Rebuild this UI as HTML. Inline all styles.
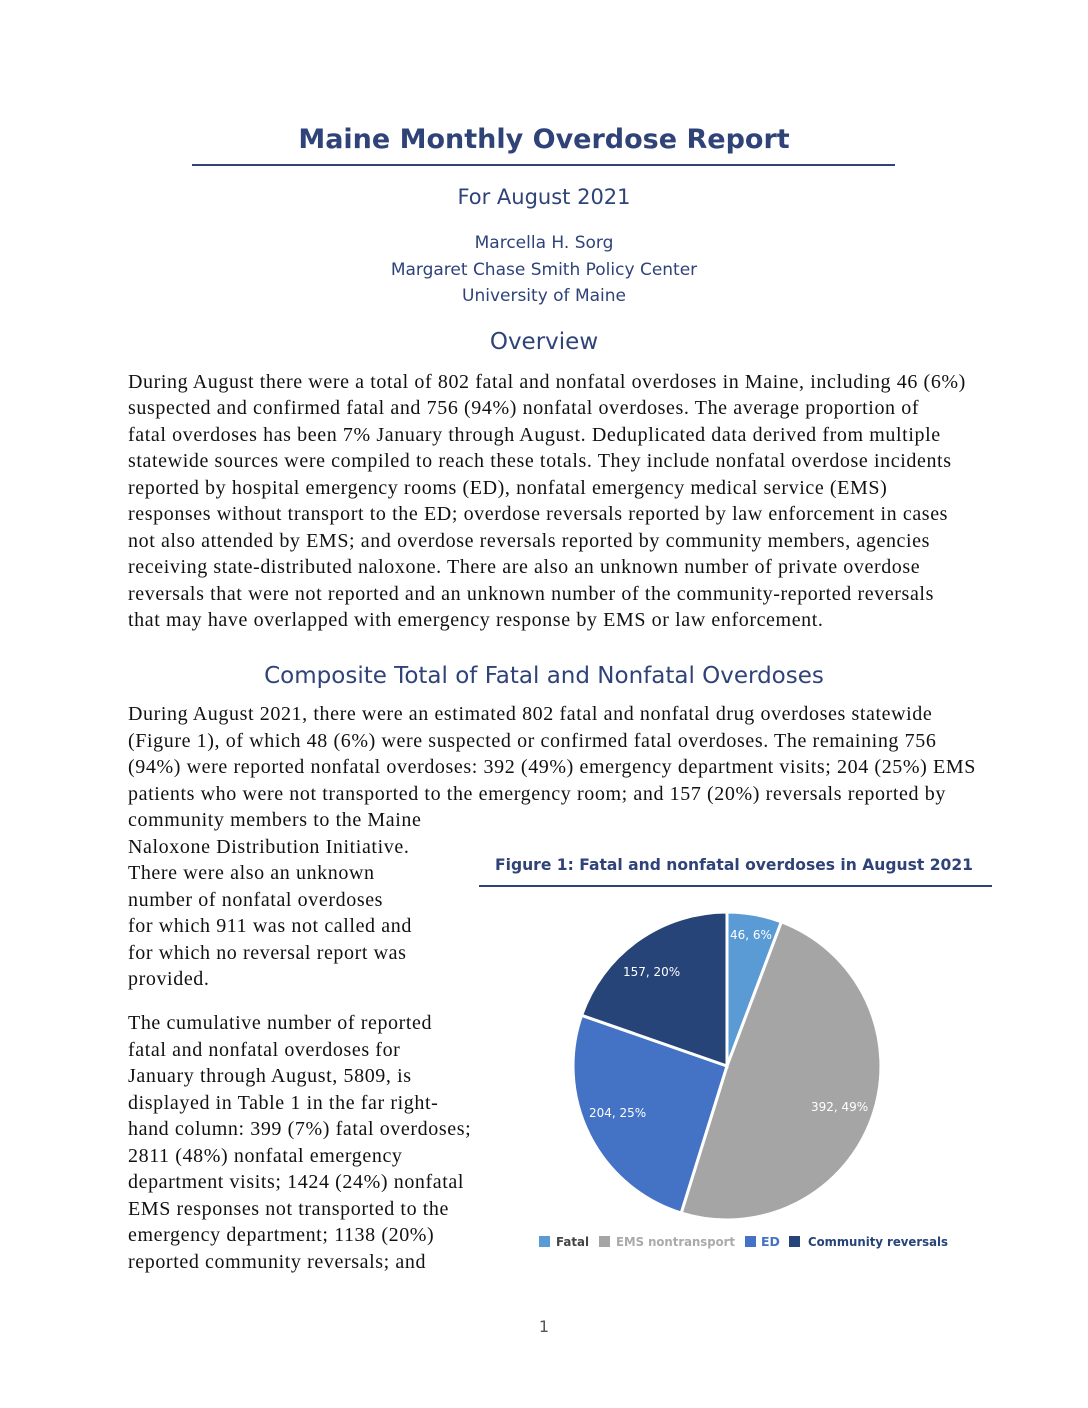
<!DOCTYPE html>
<html><head><meta charset="utf-8"><style>
body{margin:0;background:#fff;}
.pg{position:relative;width:1088px;height:1408px;overflow:hidden;background:#fff;}
.c{position:absolute;left:0;width:1088px;text-align:center;font-family:"DejaVu Sans","Liberation Sans",sans-serif;color:#2f4379;white-space:nowrap;}
.l{position:absolute;left:128px;font-family:"Liberation Serif",serif;font-size:20px;letter-spacing:0.6px;color:#111;white-space:nowrap;line-height:20px;margin-top:1px;}
</style></head><body><div class="pg">
<div class="c" style="top:124px;font-size:27px;font-weight:bold;">Maine Monthly Overdose Report</div>
<div style="position:absolute;left:192px;top:164px;width:703px;height:2px;background:#2f4379"></div>
<div class="c" style="top:185px;font-size:21px;">For August 2021</div>
<div class="c" style="top:230px;font-size:17px;line-height:26.5px;">Marcella H. Sorg<br>Margaret Chase Smith Policy Center<br>University of Maine</div>
<div class="c" style="top:329px;font-size:23px;">Overview</div>
<div class="l" style="top:371px">During August there were a total of 802 fatal and nonfatal overdoses in Maine, including 46 (6%)</div>
<div class="l" style="top:397px">suspected and confirmed fatal and 756 (94%) nonfatal overdoses. The average proportion of</div>
<div class="l" style="top:424px">fatal overdoses has been 7% January through August. Deduplicated data derived from multiple</div>
<div class="l" style="top:450px">statewide sources were compiled to reach these totals. They include nonfatal overdose incidents</div>
<div class="l" style="top:477px">reported by hospital emergency rooms (ED), nonfatal emergency medical service (EMS)</div>
<div class="l" style="top:503px">responses without transport to the ED; overdose reversals reported by law enforcement in cases</div>
<div class="l" style="top:530px">not also attended by EMS; and overdose reversals reported by community members, agencies</div>
<div class="l" style="top:556px">receiving state-distributed naloxone. There are also an unknown number of private overdose</div>
<div class="l" style="top:583px">reversals that were not reported and an unknown number of the community-reported reversals</div>
<div class="l" style="top:609px">that may have overlapped with emergency response by EMS or law enforcement.</div>
<div class="c" style="top:663px;font-size:23px;">Composite Total of Fatal and Nonfatal Overdoses</div>
<div class="l" style="top:703px">During August 2021, there were an estimated 802 fatal and nonfatal drug overdoses statewide</div>
<div class="l" style="top:730px">(Figure 1), of which 48 (6%) were suspected or confirmed fatal overdoses. The remaining 756</div>
<div class="l" style="top:756px">(94%) were reported nonfatal overdoses: 392 (49%) emergency department visits; 204 (25%) EMS</div>
<div class="l" style="top:783px">patients who were not transported to the emergency room; and 157 (20%) reversals reported by</div>
<div class="l" style="top:809px">community members to the Maine</div>
<div class="l" style="top:836px">Naloxone Distribution Initiative.</div>
<div class="l" style="top:862px">There were also an unknown</div>
<div class="l" style="top:889px">number of nonfatal overdoses</div>
<div class="l" style="top:915px">for which 911 was not called and</div>
<div class="l" style="top:942px">for which no reversal report was</div>
<div class="l" style="top:968px">provided.</div>
<div class="l" style="top:1012px">The cumulative number of reported</div>
<div class="l" style="top:1039px">fatal and nonfatal overdoses for</div>
<div class="l" style="top:1065px">January through August, 5809, is</div>
<div class="l" style="top:1092px">displayed in Table 1 in the far right-</div>
<div class="l" style="top:1118px">hand column: 399 (7%) fatal overdoses;</div>
<div class="l" style="top:1145px">2811 (48%) nonfatal emergency</div>
<div class="l" style="top:1171px">department visits; 1424 (24%) nonfatal</div>
<div class="l" style="top:1198px">EMS responses not transported to the</div>
<div class="l" style="top:1224px">emergency department; 1138 (20%)</div>
<div class="l" style="top:1251px">reported community reversals; and</div>
<div class="c" style="top:1317px;font-size:16px;color:#555;">1</div>
<svg style="position:absolute;left:0;top:0" width="1088" height="1408">
<text x="734" y="870" text-anchor="middle" font-family="DejaVu Sans,Liberation Sans,sans-serif" font-size="16" font-weight="bold" fill="#2f4379" textLength="478" lengthAdjust="spacingAndGlyphs">Figure 1: Fatal and nonfatal overdoses in August 2021</text>
<rect x="479" y="885" width="513" height="2" fill="#2f4379"/>
<g stroke="#fff" stroke-width="3">
<path d="M727,1066 L727,912 A154,154 0 0 1 781.4,921.9 Z" fill="#5b9bd5"/>
<path d="M727,1066 L781.4,921.9 A154,154 0 0 1 681.2,1213 Z" fill="#a5a5a5"/>
<path d="M727,1066 L681.2,1213 A154,154 0 0 1 581.6,1015.3 Z" fill="#4472c4"/>
<path d="M727,1066 L581.6,1015.3 A154,154 0 0 1 727,912 Z" fill="#264478"/>
</g>
<g font-family="DejaVu Sans,Liberation Sans,sans-serif" font-size="12" fill="#fff">
<text x="730" y="939">46, 6%</text>
<text x="623" y="976">157, 20%</text>
<text x="589" y="1117">204, 25%</text>
<text x="811" y="1111">392, 49%</text>
</g>
<g font-family="DejaVu Sans,Liberation Sans,sans-serif" font-size="12.5" font-weight="bold">
<rect x="539" y="1236" width="11" height="11" fill="#5b9bd5"/><text x="556" y="1246" fill="#444" textLength="33" lengthAdjust="spacingAndGlyphs">Fatal</text>
<rect x="599" y="1236" width="11" height="11" fill="#a5a5a5"/><text x="616" y="1246" fill="#aaa" textLength="119" lengthAdjust="spacingAndGlyphs">EMS nontransport</text>
<rect x="745" y="1236" width="11" height="11" fill="#4472c4"/><text x="761" y="1246" fill="#4472c4">ED</text>
<rect x="789" y="1236" width="11" height="11" fill="#264478"/><text x="808" y="1246" fill="#264478" textLength="140" lengthAdjust="spacingAndGlyphs">Community reversals</text>
</g>
</svg>
</div></body></html>
